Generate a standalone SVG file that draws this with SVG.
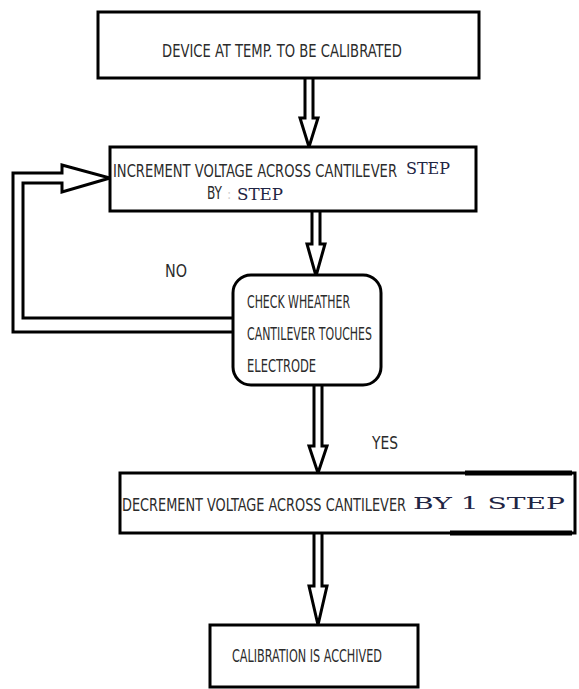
<svg xmlns="http://www.w3.org/2000/svg" width="579" height="689" viewBox="0 0 579 689">
<style>
.box{fill:#fff;stroke:#000;stroke-width:3}
.arr{fill:#fff;stroke:#000;stroke-width:3;stroke-linejoin:miter}
.t{font-family:"Liberation Sans Narrow","DejaVu Sans Condensed","Liberation Sans",sans-serif;font-size:18px;fill:#2b2b2b}
.m{font-family:"DejaVu Serif","Liberation Serif",serif;font-size:17px;fill:#1f2544}
</style>
<rect width="579" height="689" fill="#fff"/>
<g id="connectors">
<path class="arr" d="M305,78 V118 H300 L309,147 L318,118 H313 V78"/>
<path class="arr" d="M312,211 V244 H307 L316,276 L325,244 H320 V211"/>
<path class="arr" d="M314,386 V446 H309 L318,473 L327,446 H322 V386"/>
<path class="arr" d="M314,533 V586 H309 L318,625 L327,586 H322 V533"/>
<path class="arr" d="M233,332 H13 V173 H62 V165 L110,178 L62,192 V183 H23 V318 H233"/>
<text class="t" x="165" y="277" textLength="22" lengthAdjust="spacingAndGlyphs">NO</text>
<text class="t" x="372" y="449" textLength="26" lengthAdjust="spacingAndGlyphs">YES</text>
</g>
<g id="n1">
<rect class="box" x="98" y="12" width="381" height="66"/>
<text class="t" x="162" y="57" textLength="240" lengthAdjust="spacingAndGlyphs">DEVICE AT TEMP. TO BE CALIBRATED</text>
</g>
<g id="n2">
<rect class="box" x="110" y="147" width="366" height="64"/>
<text class="t" transform="translate(113,177) scale(1,1.2)" x="0" y="0" font-size="15" style="font-size:15px" textLength="284" lengthAdjust="spacingAndGlyphs">INCREMENT VOLTAGE ACROSS CANTILEVER</text>
<text class="m" x="406" y="174" textLength="44" lengthAdjust="spacingAndGlyphs">STEP</text>
<text class="t" x="207" y="199" textLength="15" lengthAdjust="spacingAndGlyphs">BY</text>
<text class="t" x="227" y="199" style="fill:#d0d0d0;font-size:14px">:</text>
<text class="m" x="237" y="200" textLength="46" lengthAdjust="spacingAndGlyphs">STEP</text>
</g>
<g id="n3">
<rect class="box" x="233" y="275" width="148" height="110" rx="18" ry="18"/>
<text class="t" x="247" y="308" textLength="103" lengthAdjust="spacingAndGlyphs">CHECK WHEATHER</text>
<text class="t" x="247" y="340" textLength="125" lengthAdjust="spacingAndGlyphs">CANTILEVER TOUCHES</text>
<text class="t" x="247" y="372" textLength="69" lengthAdjust="spacingAndGlyphs">ELECTRODE</text>
</g>
<g id="n4">
<rect class="box" x="120" y="473" width="455" height="60"/>
<line x1="465" y1="473" x2="572" y2="473" stroke="#000" stroke-width="5"/>
<line x1="450" y1="533" x2="572" y2="533" stroke="#000" stroke-width="5"/>
<text class="t" transform="translate(122,511) scale(1,1.2)" x="0" y="0" style="font-size:15px" textLength="284" lengthAdjust="spacingAndGlyphs">DECREMENT VOLTAGE ACROSS CANTILEVER</text>
<text class="m" x="413" y="509" textLength="152" lengthAdjust="spacingAndGlyphs">BY 1 STEP</text>
</g>
<g id="n5">
<rect class="box" x="210" y="625" width="208" height="62"/>
<text class="t" x="232" y="662" textLength="150" lengthAdjust="spacingAndGlyphs">CALIBRATION IS ACCHIVED</text>
</g>
</svg>
